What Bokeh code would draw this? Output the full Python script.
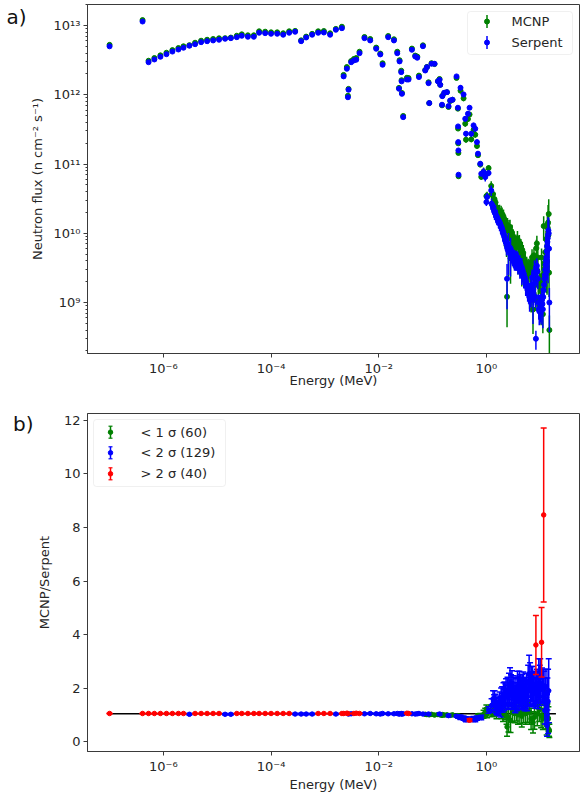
import numpy as np
from bokeh.plotting import figure
from bokeh.layouts import column
from bokeh.models import (FixedTicker, CustomJSTickFormatter, Label, Range1d, LogAxis, LinearAxis,
                          BoxAnnotation, ColumnDataSource)
from bokeh.embed import file_html
from bokeh.resources import INLINE

FONT = "DejaVu Sans"
TXT = "#262626"
FRAME = "#3a3a3a"
GREEN = "#008000"
BLUE = "#0000ff"
RED = "#ff0000"

# ---------------- data (energy in MeV, Serpent flux, MCNP/Serpent ratio) ----------------
energy_A = [1.0e-7, 4.1e-7, 5.3e-7, 6.8e-7, 8.8e-7, 1.14e-6, 1.47e-6, 1.9e-6, 2.36e-6, 3.04e-6,
            3.88e-6, 5.02e-6, 6.49e-6, 8.39e-6, 1.08e-5, 1.40e-5, 1.79e-5, 2.31e-5, 2.86e-5, 3.71e-5,
            4.79e-5, 6.0e-5, 7.77e-5, 1.0e-4, 1.30e-4, 1.68e-4, 2.17e-4, 2.8e-4, 3.62e-4, 4.49e-4,
            5.8e-4, 7.5e-4, 9.57e-4, 1.25e-3, 1.6e-3, 2.07e-3]
serpent_A = [5.0e12, 1.14e13, 2.95e12, 3.23e12, 3.53e12, 3.85e12, 4.2e12, 4.5e12, 4.77e12, 5.1e12,
             5.37e12, 5.74e12, 5.93e12, 6.08e12, 6.22e12, 6.43e12, 6.56e12, 6.78e12, 7.1e12, 6.87e12,
             6.87e12, 7.85e12, 7.75e12, 7.59e12, 7.59e12, 7.35e12, 7.85e12, 8.11e12, 5.93e12, 6.71e12,
             7.35e12, 7.85e12, 7.92e12, 7.35e12, 8.67e12, 9.14e12]
ratio_A = [1.05, 1.05, 1.05, 1.05, 1.05, 1.05, 1.05, 1.05, 1.05, 1.02,
           1.05, 1.05, 1.05, 1.05, 1.05, 1.02, 1.02, 1.05, 1.05, 1.05,
           1.05, 1.05, 1.05, 1.05, 1.05, 1.05, 1.05, 1.03, 1.03, 1.03,
           1.03, 1.05, 1.05, 1.05, 1.03, 1.05]
ratio_err_A = [0.01, 0.01, 0.01, 0.01, 0.01, 0.01, 0.01, 0.01, 0.01, 0.03,
               0.01, 0.01, 0.01, 0.01, 0.01, 0.03, 0.03, 0.01, 0.01, 0.01,
               0.01, 0.01, 0.01, 0.01, 0.01, 0.01, 0.01, 0.03, 0.03, 0.03,
               0.03, 0.01, 0.01, 0.01, 0.03, 0.01]
class_A = "RRRRRRRRRBRRRRRBBRRRRRRRRRRBBBBRRRBR"

energy_B = [2.23e-3, 2.56e-3, 2.68e-3, 2.75e-3, 3.08e-3, 3.46e-3, 3.82e-3, 4.4e-3, 5.44e-3, 6.95e-3,
            8.98e-3, 1.07e-2, 1.18e-2, 1.5e-2, 1.92e-2, 2.21e-2, 2.38e-2, 2.44e-2, 2.62e-2, 2.66e-2,
            2.7e-2, 2.85e-2, 3.34e-2, 3.58e-2, 4.14e-2, 4.77e-2, 5.2e-2, 5.59e-2, 6.63e-2, 7.32e-2,
            7.87e-2, 8.43e-2, 8.69e-2, 9.58e-2, 0.109, 0.126, 0.135, 0.139, 0.150, 0.152,
            0.165, 0.185, 0.198, 0.213, 0.235, 0.279, 0.296, 0.298, 0.300, 0.302,
            0.304, 0.331, 0.377, 0.405, 0.418, 0.455, 0.487, 0.524, 0.578, 0.622,
            0.669, 0.698, 0.77, 0.804, 0.887, 0.953, 1.0, 1.03, 1.10, 1.23, 1.25]
serpent_B = [1.84e12, 2.37e12, 9.2e11, 1.18e12, 2.95e12, 3.13e12, 3.2e12, 3.98e12, 6.56e12, 6.08e12,
             4.61e12, 3.82e12, 2.71e12, 6.78e12, 6.08e12, 3.98e12, 1.22e12, 3.03e12, 2.12e12, 1.56e12,
             1.03e12, 4.75e11, 1.66e12, 1.66e12, 4.46e12, 3.57e12, 3.42e12, 1.8e12, 5.02e12, 2.24e12,
             2.5e12, 1.47e12, 7.57e11, 2.8e12, 2.8e12, 1.56e12, 1.64e12, 1.39e12, 7.18e11, 9.55e11,
             1.07e12, 1.09e12, 6.86e11, 8.28e11, 8.47e11, 1.84e12, 6.49e11, 3.49e11, 2.07e11, 1.57e11,
             7.01e10, 1.26e12, 1.01e12, 4.5e11, 2.74e11, 5.32e11, 6.49e11, 2.74e11, 3.61e11, 3.23e11,
             2.07e11, 1.41e11, 1.01e11, 7.24e10, 7.64e10, 6.47e10, 2.82e10, 3.33e10, 7.4e10, 4.16e10, 2.67e10]
ratio_B = [1.05, 1.06, 1.05, 1.03, 1.04, 1.05, 1.06, 1.05, 1.04, 1.05,
           1.04, 1.03, 1.05, 1.04, 1.04, 1.05, 1.03, 1.04, 1.05, 1.04,
           1.03, 1.04, 1.06, 1.05, 1.04, 1.03, 1.04, 1.05, 1.03, 1.02,
           1.01, 1.03, 1.00, 1.02, 0.99, 1.01, 1.03, 1.00, 0.98, 1.01,
           0.99, 1.00, 0.97, 0.98, 1.00, 0.95, 0.97, 0.93, 0.96, 0.92,
           0.95, 0.91, 0.88, 0.85, 0.82, 0.84, 0.80, 0.83, 0.86, 0.82,
           0.88, 0.95, 0.97, 0.90, 1.02, 1.10, 1.22, 1.04, 1.18, 1.16, 1.35]
ratio_err_B = [0.01, 0.01, 0.01, 0.03, 0.03, 0.01, 0.01, 0.01, 0.03, 0.03,
               0.03, 0.03, 0.03, 0.03, 0.03, 0.03, 0.03, 0.03, 0.03, 0.03,
               0.03, 0.03, 0.01, 0.01, 0.03, 0.03, 0.03, 0.03, 0.03, 0.04,
               0.04, 0.04, 0.04, 0.04, 0.04, 0.04, 0.04, 0.04, 0.04, 0.04,
               0.04, 0.04, 0.04, 0.04, 0.04, 0.04, 0.04, 0.04, 0.04, 0.04,
               0.04, 0.08, 0.08, 0.08, 0.08, 0.08, 0.05, 0.08, 0.08, 0.08,
               0.08, 0.08, 0.08, 0.08, 0.15, 0.15, 0.15, 0.15, 0.12, 0.20, 0.25]
class_B = "RRRBBRRRBBBBBBBBBBBBBBRRBBBBBGGBGGGGBGGGGGBGGBGBGBGBBBBBRBBBBGGBGGGGBGB"

energy_C = [1.30, 1.33, 1.36, 1.39, 1.42, 1.45, 1.48, 1.51, 1.54, 1.57,
            1.60, 1.64, 1.68, 1.72, 1.76, 1.80, 1.84, 1.88, 1.92, 1.96,
            2.00, 2.04, 2.08, 2.12, 2.17, 2.22, 2.27, 2.32, 2.37, 2.42,
            2.47, 2.52, 2.57, 2.63, 2.69, 2.75, 2.81, 2.87, 2.93, 2.99,
            3.05, 3.12, 3.19, 3.26, 3.33, 3.40, 3.47, 3.54, 3.62, 3.70,
            3.78, 3.86, 3.94, 4.02, 4.10, 4.19, 4.28, 4.37, 4.46, 4.55,
            4.65, 4.75, 4.85, 4.95, 5.05, 5.16, 5.27, 5.38, 5.49, 5.61,
            5.73, 5.85, 5.97, 6.10, 6.23, 6.36, 6.49, 6.63, 6.77, 6.91,
            7.05, 7.20, 7.35, 7.50, 7.66, 7.82, 7.98, 8.15, 8.32, 8.49,
            8.67, 8.85, 9.03, 9.22, 9.41, 9.60, 9.80, 10.0, 10.2, 10.4,
            10.6, 10.8, 11.0, 11.2, 11.4, 11.6, 11.8, 12.0, 12.2, 12.4,
            12.6, 12.8, 13.0, 13.2, 13.4, 13.6, 13.8, 14.0, 14.2, 14.4,
            14.6, 14.8]
serpent_C = [2.5e10, 2.3e10, 2.4e10, 2.1e10, 2.0e10, 2.07e10, 1.9e10, 1.8e10, 1.75e10, 1.7e10,
             1.64e10, 1.55e10, 1.5e10, 1.45e10, 1.4e10, 1.39e10, 1.3e10, 1.25e10, 1.2e10, 1.15e10,
             1.1e10, 1.05e10, 1.0e10, 9.5e9, 8.8e9, 8.0e9, 7.6e9, 7.3e9, 7.0e9, 2.2e9,
             6.9e9, 6.6e9, 6.3e9, 6.1e9, 5.9e9, 5.7e9, 5.5e9, 5.3e9, 5.2e9, 5.0e9,
             4.9e9, 4.7e9, 4.5e9, 4.4e9, 4.3e9, 4.3e9, 4.2e9, 4.1e9, 4.2e9, 4.3e9,
             4.1e9, 3.9e9, 3.8e9, 3.7e9, 3.6e9, 3.5e9, 3.4e9, 3.3e9, 3.2e9, 3.1e9,
             3.0e9, 2.8e9, 2.6e9, 2.5e9, 2.4e9, 2.3e9, 2.1e9, 2.0e9, 1.9e9, 1.8e9,
             1.7e9, 1.6e9, 1.5e9, 1.4e9, 1.3e9, 1.25e9, 1.2e9, 1.4e9, 1.6e9, 1.8e9,
             2.3e9, 1.5e9, 1.1e9, 1.3e9, 2.6e9, 2.7e9, 1.9e9, 1.2e9, 3.0e8, 3.2e9,
             3.4e9, 2.8e9, 2.2e9, 1.0e9, 8.0e8, 7.5e8, 1.0e9, 8.5e8, 7.5e8, 9.0e8,
             1.2e9, 1.1e9, 9.5e8, 8.0e8, 1.2e9, 1.5e9, 1.8e9, 2.2e9, 2.5e9, 3.0e9,
             3.5e9, 4.0e9, 4.5e9, 5.5e9, 6.5e9, 7.5e9, 8.5e9, 9.5e9, 1.1e10, 1.0e10,
             6.0e9, 1.0e9]
ratio_C = [1.08, 1.60, 1.15, 1.45, 1.55, 1.16, 1.47, 1.35, 1.05, 1.30,
           1.25, 1.22, 1.40, 1.22, 1.50, 1.22, 1.22, 1.60, 1.10, 1.65,
           1.45, 1.00, 1.75, 1.55, 1.78, 1.12, 1.70, 1.85, 0.95, 0.55,
           1.90, 1.65, 0.91, 2.00, 1.80, 2.16, 0.79, 1.95, 1.75, 2.05,
           1.10, 1.91, 1.70, 1.85, 1.05, 1.60, 1.53, 1.80, 1.12, 1.65,
           2.03, 1.00, 1.90, 1.70, 2.03, 1.08, 1.85, 1.91, 1.75, 0.95,
           1.91, 1.80, 2.00, 1.10, 1.78, 1.65, 1.85, 1.05, 1.78, 1.95,
           1.70, 1.12, 2.20, 1.90, 2.53, 1.10, 2.30, 2.00, 0.85, 2.16,
           1.95, 2.16, 0.72, 2.00, 1.85, 0.91, 2.03, 1.80, 3.61, 1.91,
           2.10, 1.04, 2.03, 1.78, 2.40, 1.20, 2.20, 2.40, 1.95, 0.97,
           3.71, 2.10, 2.03, 0.85, 2.09, 8.47, 2.03, 1.41, 1.16, 1.78,
           0.97, 2.05, 1.16, 0.60, 0.60, 1.78, 1.41, 1.50, 0.85, 1.90,
           0.45, 0.40]
ratio_err_C = [0.15, 0.30, 0.15, 0.30, 0.35, 0.20, 0.30, 0.30, 0.20, 0.30,
               0.25, 0.20, 0.30, 0.25, 0.35, 0.20, 0.30, 0.40, 0.25, 0.40,
               0.35, 0.25, 0.45, 0.40, 0.45, 0.30, 0.45, 0.50, 0.30, 0.35,
               0.50, 0.45, 0.55, 0.55, 0.50, 0.60, 0.45, 0.55, 0.50, 0.60,
               0.35, 0.55, 0.50, 0.55, 0.35, 0.50, 0.45, 0.55, 0.35, 0.50,
               0.60, 0.35, 0.55, 0.50, 0.60, 0.40, 0.55, 0.60, 0.55, 0.40,
               0.60, 0.55, 0.60, 0.40, 0.55, 0.50, 0.55, 0.40, 0.55, 0.60,
               0.55, 0.40, 0.65, 0.60, 0.70, 0.45, 0.65, 0.60, 0.40, 0.65,
               0.60, 0.65, 0.40, 0.60, 0.55, 0.45, 0.60, 0.55, 1.10, 0.60,
               0.60, 0.45, 0.60, 0.55, 0.70, 0.45, 0.65, 0.70, 0.60, 0.45,
               1.30, 0.65, 0.60, 0.40, 0.60, 3.25, 0.60, 0.50, 0.50, 0.60,
               0.50, 0.65, 0.50, 0.35, 0.40, 0.60, 0.50, 1.20, 0.45, 1.20,
               0.25, 0.25]
class_C = ("GBGBBGBBGB" "BGBBBGBBGB" "BGBBBGBBGG" "BBGBBBGBBB" "GBBBGBBBGB"
           "BGBBBGBBBG" "BBBGBBBGBB" "BGBBBGBBGB" "BBGBBGBBRB" "BGBBBGBBBG"
           "RBBGBRBGBB" "GBBGBBGBGB" "GG")

mean_ratio_energy = [1.0e-7, 19.6]
mean_ratio_value = [1.04, 1.04]

legend_top = ["MCNP", "Serpent"]
legend_bottom = ["< 1 σ (60)", "< 2 σ (129)", "> 2 σ (40)"]
panel_tags = ["a)", "b)"]

# ---------------- assemble ----------------
energy = np.array(energy_A + energy_B + energy_C)
flux_serpent = np.array(serpent_A + serpent_B + serpent_C)
ratio = np.array(ratio_A + ratio_B + ratio_C)
ratio_err = np.array(ratio_err_A + ratio_err_B + ratio_err_C)
sigma_class = np.array(list(class_A + class_B + class_C))
flux_mcnp = flux_serpent * ratio
rel_err = ratio_err / ratio

X_LO, X_HI = -7.41, 1.73
Y1_LO, Y1_HI = 8.264, 13.303
Y2_LO, Y2_HI = -0.37, 12.26

SUP_JS = r"""
const sup = {"-": "\u207b", "0": "\u2070", "1": "\u00b9", "2": "\u00b2", "3": "\u00b3",
             "4": "\u2074", "5": "\u2075", "6": "\u2076", "7": "\u2077", "8": "\u2078", "9": "\u2079"};
const e = Math.round(Math.log10(tick));
return "10" + String(e).split("").map(c => sup[c]).join("");
"""


def style_axes(p):
    p.grid.visible = False
    p.outline_line_color = FRAME
    p.outline_line_width = 1
    p.background_fill_color = "white"
    p.border_fill_color = "white"
    for ax in p.axis:
        ax.axis_line_color = FRAME
        ax.major_tick_line_color = FRAME
        ax.minor_tick_line_color = FRAME
        ax.major_tick_in = 0
        ax.major_tick_out = 4
        ax.minor_tick_in = 0
        ax.minor_tick_out = 2
        ax.major_label_standoff = 3
        ax.axis_label_standoff = 1
        ax.major_label_text_font = FONT
        ax.major_label_text_font_size = "13px"
        ax.major_label_text_color = TXT
        ax.axis_label_text_font = FONT
        ax.axis_label_text_font_size = "13px"
        ax.axis_label_text_font_style = "normal"
        ax.axis_label_text_color = TXT


def tag_axis(axis_cls, y_value, text):
    # a bare outer axis whose single tick label carries the panel tag
    return axis_cls(ticker=FixedTicker(ticks=[y_value], minor_ticks=[]),
                    formatter=CustomJSTickFormatter(code="return %r;" % text),
                    axis_line_color=None, major_tick_line_color=None, minor_tick_line_color=None,
                    major_tick_in=0, major_tick_out=0, major_label_standoff=0,
                    major_label_text_font=FONT, major_label_text_font_size="20px",
                    major_label_text_color="#111111")


# ---------------- panel a ----------------
p1 = figure(frame_width=492, frame_height=349, x_axis_type="log", y_axis_type="log",
            x_range=Range1d(10 ** X_LO, 10 ** X_HI), y_range=Range1d(10 ** Y1_LO, 10 ** Y1_HI),
            output_backend="svg", toolbar_location=None,
            min_border_left=82, min_border_right=12, min_border_top=4, min_border_bottom=47)
style_axes(p1)
p1.xaxis.ticker = FixedTicker(ticks=[1e-6, 1e-4, 1e-2, 1.0], minor_ticks=[])
p1.yaxis.ticker = FixedTicker(ticks=[1e9, 1e10, 1e11, 1e12, 1e13],
                              minor_ticks=[m * 10.0 ** k for k in range(8, 14) for m in range(2, 10)])
p1.xaxis.formatter = CustomJSTickFormatter(code=SUP_JS)
p1.yaxis.formatter = CustomJSTickFormatter(code=SUP_JS)
p1.xaxis.axis_label = "Energy (MeV)"
p1.yaxis.axis_label = "Neutron flux (n cm\u207b\u00b2 s\u207b\u00b9)"
p1.xaxis.axis_label_standoff = -6
p1.yaxis.axis_label_standoff = 6

src1 = ColumnDataSource(dict(e=energy,
                             m=flux_mcnp, m_lo=flux_mcnp * (1 - rel_err), m_hi=flux_mcnp * (1 + rel_err),
                             s=flux_serpent, s_lo=flux_serpent * (1 - rel_err), s_hi=flux_serpent * (1 + rel_err)))
p1.segment(x0="e", y0="m_lo", x1="e", y1="m_hi", source=src1, line_color=GREEN, line_width=1.5)
p1.scatter(x="e", y="m", source=src1, size=5, marker="circle", fill_color=GREEN, line_color=GREEN)
p1.segment(x0="e", y0="s_lo", x1="e", y1="s_hi", source=src1, line_color=BLUE, line_width=1.5)
p1.scatter(x="e", y="s", source=src1, size=5, marker="circle", fill_color=BLUE, line_color=BLUE)


def tx(px):
    return 10 ** (X_LO + (px - 82) / 492.0 * (X_HI - X_LO))


def ty(py):
    return 10 ** (Y1_HI - (py - 4) / 349.0 * (Y1_HI - Y1_LO))


p1.add_layout(BoxAnnotation(left=tx(462), right=tx(567), top=ty(11), bottom=ty(54),
                            fill_color="white", fill_alpha=0.85, line_color="#cccccc",
                            line_width=1, border_radius=3))
for row_py, name, col in [(21, legend_top[0], GREEN), (42, legend_top[1], BLUE)]:
    p1.segment(x0=[tx(481.5)], y0=[ty(row_py + 6.5)], x1=[tx(481.5)], y1=[ty(row_py - 6.5)],
               line_color=col, line_width=1.5, level="overlay")
    p1.scatter(x=[tx(481.5)], y=[ty(row_py)], size=5, marker="circle", fill_color=col,
               line_color=col, level="overlay")
    p1.add_layout(Label(x=tx(506), y=ty(row_py), text=name, text_font=FONT, text_font_size="13px",
                        text_baseline="middle", text_color=TXT))
p1.add_layout(tag_axis(LogAxis, ty(16.5), panel_tags[0]), "left")

# ---------------- panel b ----------------
p2 = figure(frame_width=492, frame_height=338, x_axis_type="log",
            x_range=Range1d(10 ** X_LO, 10 ** X_HI), y_range=Range1d(Y2_LO, Y2_HI),
            output_backend="svg", toolbar_location=None,
            min_border_left=87, min_border_right=7, min_border_top=13, min_border_bottom=45)
style_axes(p2)
p2.xaxis.ticker = FixedTicker(ticks=[1e-6, 1e-4, 1e-2, 1.0], minor_ticks=[])
p2.xaxis.formatter = CustomJSTickFormatter(code=SUP_JS)
p2.yaxis.ticker = FixedTicker(ticks=[0, 2, 4, 6, 8, 10, 12], minor_ticks=[])
p2.xaxis.axis_label = "Energy (MeV)"
p2.yaxis.axis_label = "MCNP/Serpent"
p2.xaxis.axis_label_standoff = 0
p2.yaxis.axis_label_standoff = 9

p2.line(x=mean_ratio_energy, y=mean_ratio_value, line_color="black", line_width=1.5)

for code, col in [("G", GREEN), ("B", BLUE), ("R", RED)]:
    sel = sigma_class == code
    src = ColumnDataSource(dict(e=energy[sel], r=ratio[sel],
                                lo=ratio[sel] - ratio_err[sel], hi=ratio[sel] + ratio_err[sel]))
    p2.segment(x0="e", y0="lo", x1="e", y1="hi", source=src, line_color=col, line_width=1.5)
    p2.scatter(x="e", y="lo", source=src, marker="dash", size=6, line_color=col, line_width=1.5)
    p2.scatter(x="e", y="hi", source=src, marker="dash", size=6, line_color=col, line_width=1.5)
    p2.scatter(x="e", y="r", source=src, size=4.5, marker="circle", fill_color=col, line_color=col)


def bx(px):
    return 10 ** (X_LO + (px - 87) / 492.0 * (X_HI - X_LO))


def by(py):
    return Y2_HI - (py - 413) / 338.0 * (Y2_HI - Y2_LO)


p2.add_layout(BoxAnnotation(left=bx(93), right=bx(225), top=by(419), bottom=by(486),
                            fill_color="white", fill_alpha=0.85, line_color="#cccccc",
                            line_width=1, border_radius=3))
for row_py, name, col in [(431.7, legend_bottom[0], GREEN), (452.3, legend_bottom[1], BLUE),
                          (473.3, legend_bottom[2], RED)]:
    p2.segment(x0=[bx(110)], y0=[by(row_py + 6)], x1=[bx(110)], y1=[by(row_py - 6)],
               line_color=col, line_width=1.5, level="overlay")
    p2.scatter(x=[bx(110), bx(110)], y=[by(row_py + 6), by(row_py - 6)], marker="dash", size=4,
               line_color=col, line_width=1.2, level="overlay")
    p2.scatter(x=[bx(110)], y=[by(row_py)], size=4.5, marker="circle", fill_color=col,
               line_color=col, level="overlay")
    p2.add_layout(Label(x=bx(140), y=by(row_py), text=name, text_font=FONT, text_font_size="13px",
                        text_baseline="middle", text_color=TXT))
p2.add_layout(tag_axis(LinearAxis, by(423.5), panel_tags[1]), "left")

layout = column(p1, p2, spacing=0)
with open("out.html", "w", encoding="utf-8") as f:
    f.write(file_html(layout, INLINE))
